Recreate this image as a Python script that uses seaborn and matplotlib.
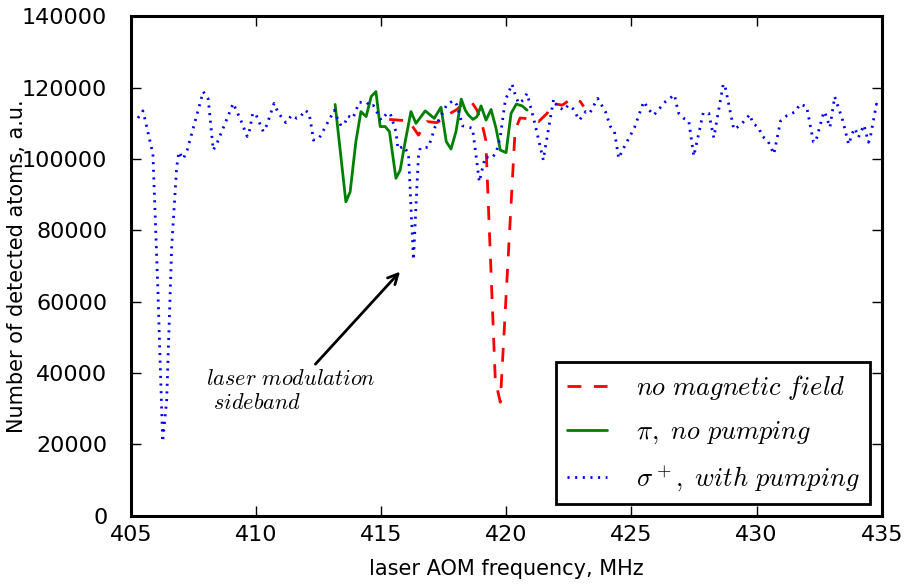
import matplotlib
matplotlib.use("Agg")
import matplotlib.pyplot as plt
import seaborn as sns

# no magnetic field (red dashed)
freq_nofield = [415.32, 416.10, 416.49, 416.83, 417.23, 417.76, 418.03, 418.36, 418.63, 418.83,
                419.04, 419.18, 419.56, 419.76, 420.35, 420.55, 421.09, 421.29, 421.63, 421.83,
                422.23, 422.63, 422.96, 423.09]
atoms_nofield = [111100, 110700, 106700, 110500, 110200, 112800, 113900, 116000, 115800, 113700,
                 109500, 105300, 38000, 31800, 108000, 111500, 111200, 110500, 112800, 115600,
                 115100, 117000, 116100, 114700]

# pi polarisation, no pumping (green)
freq_pi = [413.16, 413.59, 413.76, 413.99, 414.19, 414.40, 414.60, 414.79, 414.96, 415.16,
           415.33, 415.59, 415.76, 415.96, 416.19, 416.39, 416.76, 417.12, 417.39, 417.60,
           417.79, 417.99, 418.20, 418.36, 418.49, 418.67, 418.83, 418.99, 419.19, 419.39,
           419.59, 419.76, 419.99, 420.19, 420.40, 420.63, 420.83]
atoms_pi = [115300, 88000, 90800, 104900, 113300, 111900, 117500, 118900, 109100, 109100,
            107700, 94600, 96900, 104900, 113300, 110000, 113500, 111400, 114500, 104900,
            102800, 107700, 116800, 113700, 112300, 111100, 111900, 114900, 110900, 113900,
            108600, 102500, 101800, 112800, 115400, 114900, 113700]

# sigma+, with pumping (blue dotted)
freq_sigma = [405.28, 405.48, 405.56, 405.88, 406.08, 406.27, 406.43, 406.63, 406.83, 406.92,
              407.09, 407.25, 407.89, 408.09, 408.29, 408.45, 409.09, 409.39, 409.65, 409.73,
              409.87, 410.00, 410.29, 410.43, 410.72, 410.89, 411.19, 411.43, 411.63, 411.76,
              411.96, 412.12, 412.24, 412.29, 412.52, 413.13, 413.25, 413.40, 413.53, 413.67,
              413.87, 414.12, 414.43, 414.56, 414.69, 415.00, 415.23, 415.36, 415.59, 415.67,
              415.89, 416.09, 416.29, 416.43, 416.49, 416.56, 416.89, 417.16, 417.63, 417.89,
              418.03, 418.25, 418.43, 418.65, 418.83, 418.92, 419.03, 419.16, 419.39, 419.59,
              419.76, 419.96, 420.23, 420.36, 420.49, 420.67, 420.83, 421.09, 421.48, 421.53,
              421.89, 422.03, 422.32, 422.47, 422.65, 422.92, 423.17, 423.33, 423.65, 423.96,
              424.16, 424.32, 424.49, 424.63, 425.12, 425.36, 425.49, 425.69, 425.89, 426.36,
              426.72, 426.80, 426.89, 427.09, 427.29, 427.49, 427.56, 427.87, 428.09, 428.29,
              428.67, 428.73, 429.09, 429.36, 429.73, 429.85, 430.09, 430.21, 430.45, 430.69,
              430.96, 431.20, 431.56, 431.73, 432.00, 432.27, 432.36, 432.64, 432.72, 432.93,
              433.12, 433.43, 433.68, 433.84, 433.93, 434.07, 434.29, 434.47, 434.53, 434.79,
              434.92]
atoms_sigma = [111500, 113500, 111200, 101400, 63000, 20700, 32400, 75400, 97800, 102000,
               100000, 102500, 118900, 116800, 102500, 104600, 115600, 110900, 106300, 107700,
               112900, 112400, 107700, 109500, 115600, 112900, 110200, 112300, 111400, 111700,
               113700, 112800, 107900, 105300, 105800, 113700, 111400, 109300, 109800, 112100,
               111400, 115900, 115900, 114700, 115000, 110900, 112800, 112800, 107700, 102800,
               103600, 101600, 71700, 92700, 100600, 103100, 103300, 109100, 115300, 116400,
               115100, 109300, 109100, 108600, 98800, 93600, 96900, 100600, 100200, 101600,
               106300, 116500, 121000, 117900, 115600, 116500, 118400, 111400, 99700, 102000,
               116800, 114700, 113700, 115100, 114200, 110900, 113300, 112800, 117000, 113300,
               109100, 107700, 100200, 102300, 108800, 113500, 116100, 113900, 112300, 116100,
               118000, 115300, 112800, 111400, 110700, 100800, 103000, 113000, 112800, 106000,
               121000, 120800, 108300, 109500, 112500, 110000, 108800, 106500, 105100, 101400,
               110700, 112100, 113300, 115400, 114700, 104800, 104800, 112100, 113300, 108900,
               117500, 111100, 104100, 107400, 108600, 106100, 109500, 104700, 105600, 115400,
               114600]

series_labels = [r"$no\ magnetic\ field$", r"$\pi,\ no\ pumping$", r"$\sigma^+,\ with\ pumping$"]
note_text = "$laser\\ modulation$\n $sideband$"
note_xy = (415.83, 69000)
note_text_xy = (408.0, 30000)

sns.set_theme(style="ticks", rc={
    "axes.linewidth": 2.2,
    "axes.edgecolor": "black",
    "axes.labelcolor": "black",
    "text.color": "black",
    "xtick.direction": "in", "ytick.direction": "in",
    "xtick.top": True, "ytick.right": True,
    "xtick.major.size": 7, "ytick.major.size": 7,
    "xtick.major.width": 1.0, "ytick.major.width": 1.0,
    "xtick.major.pad": 7, "ytick.major.pad": 17,
    "lines.scale_dashes": False,
    "mathtext.fontset": "cm",
})
plt.rcParams["font.family"] = ["DejaVu Sans"]

fig = plt.figure(figsize=(9.09, 5.84), dpi=100)
ax = fig.add_axes([0.144, 0.117, 0.826, 0.855])

sns.lineplot(x=freq_nofield, y=atoms_nofield, ax=ax, color="red", lw=2, sort=False,
             estimator=None, label=series_labels[0])
sns.lineplot(x=freq_pi, y=atoms_pi, ax=ax, color="green", lw=2, sort=False,
             estimator=None, label=series_labels[1])
sns.lineplot(x=freq_sigma, y=atoms_sigma, ax=ax, color="blue", lw=2, sort=False,
             estimator=None, label=series_labels[2])
ax.lines[0].set_dashes((10, 9))
ax.lines[2].set_dashes((1.5, 4))

ax.set_xlim(405, 435)
ax.set_ylim(0, 140000)
ax.set_xticks(range(405, 436, 5))
ax.set_yticks(range(0, 140001, 20000))
ax.tick_params(labelsize=16, colors="black")
ax.set_xlabel("laser AOM frequency, MHz", fontsize=15, labelpad=10)
ax.set_ylabel("Number of detected atoms, a.u.", fontsize=15)
ax.yaxis.set_label_coords(-0.138, 0.5)

ax.annotate(note_text, xy=note_xy, xytext=note_text_xy, fontsize=16,
            arrowprops=dict(arrowstyle="->", color="black", lw=2, mutation_scale=18))

leg = ax.legend(loc="lower right", fontsize=19, frameon=True, fancybox=False,
                handlelength=1.5, handletextpad=1.1, borderpad=0.4,
                borderaxespad=0.45, labelspacing=0.65)
leg.get_frame().set_edgecolor("black")
leg.get_frame().set_linewidth(2)
leg.get_frame().set_alpha(1)

fig.savefig("out.png", dpi=100)
